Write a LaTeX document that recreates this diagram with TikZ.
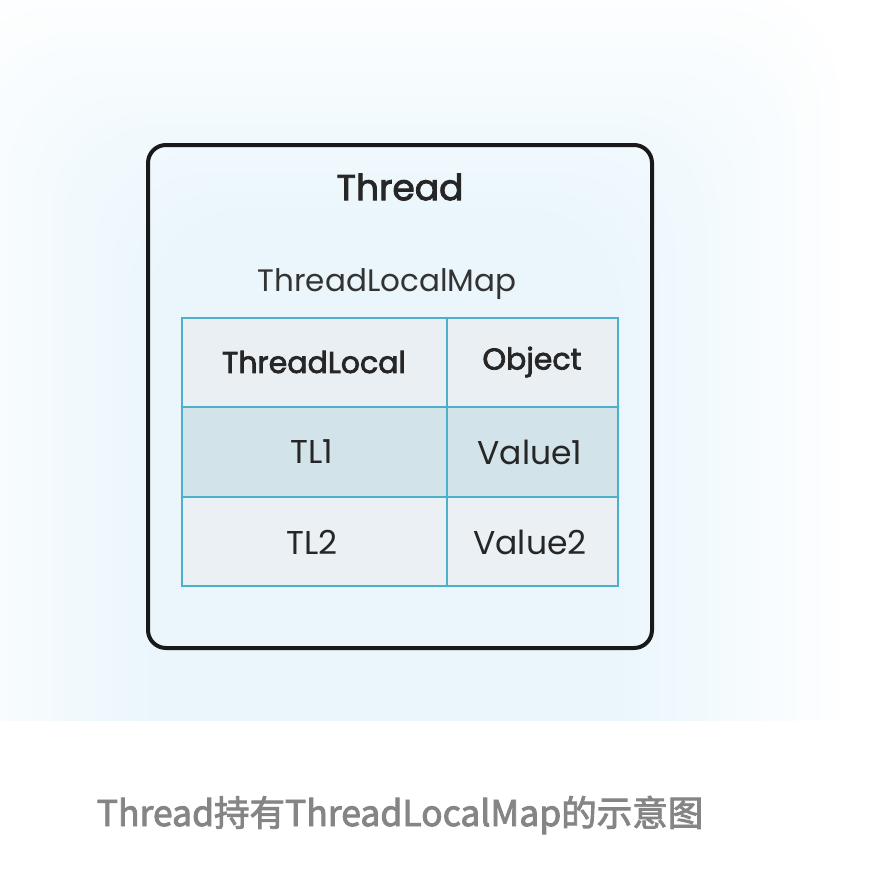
\documentclass[tikz,border=0pt]{standalone}
\usepackage{fontspec}
\setmainfont{Poppins}
\newfontfamily\popmed[FakeBold=2.5]{Poppins}
\newfontfamily\cjk[FakeBold=2.5]{Noto Sans CJK SC}
\begin{document}
\begin{tikzpicture}[x=1pt,y=-1pt,
  celltext/.style={font=\fontsize{33}{38}\selectfont, text=black!85},
  headtext/.style={font=\popmed\fontsize{30}{34}\selectfont, text=black!85},
  gridline/.style={draw=tealline, line width=2pt}]
\definecolor{glow}{HTML}{EAF6FC}
\definecolor{tealline}{HTML}{4DB0CA}
\definecolor{headfill}{HTML}{E9EFF3}
\definecolor{rowone}{HTML}{D2E3EA}
\definecolor{rowtwo}{HTML}{EBF0F4}
\definecolor{captiongray}{HTML}{858585}
\useasboundingbox (0,0) rectangle (880,894);
\fill[white] (0,0) rectangle (880,894);
% soft glow background
\begin{scope}
\clip (0,0) rectangle (880,720);
\foreach \i [evaluate=\i as \p using {\i*100/39}] in {0,...,39}{
  \fill[glow!\p!white, rounded corners=100pt] (-80+\i*6, -20+\i*6) rectangle (850-\i*6, 900);
}
\end{scope}
% Thread box
\draw[line width=4pt, black!90, rounded corners=18pt] (148,145) rectangle (652,648);
\node[font=\popmed\fontsize{36}{40}\selectfont, text=black!85] (thread) at (400,187) {Thread};
\node[font=\fontsize{31}{36}\selectfont, text=black!80] (map) at (387,284) {ThreadLocalMap};
% table cells
\fill[headfill] (182,318) rectangle (618,407);
\fill[rowone] (182,407) rectangle (618,497);
\fill[rowtwo] (182,497) rectangle (618,586);
\draw[gridline] (182,318) rectangle (618,586);
\draw[gridline] (447,318) -- (447,586);
\draw[gridline] (182,407) -- (618,407);
\draw[gridline] (182,497) -- (618,497);
\node[headtext] (h1) at (314,362) {ThreadLocal};
\node[headtext] (h2) at (532,362) {Object};
\node[celltext] (a1) at (312,452) {TL1};
\node[celltext] (b1) at (530,452) {Value1};
\node[celltext] (a2) at (312,542) {TL2};
\node[celltext] (b2) at (530,542) {Value2};
% caption
\node[font=\cjk\fontsize{35.5}{40}\selectfont, text=captiongray] (cap) at (400,815) {Thread持有ThreadLocalMap的示意图};
\end{tikzpicture}
\end{document}
